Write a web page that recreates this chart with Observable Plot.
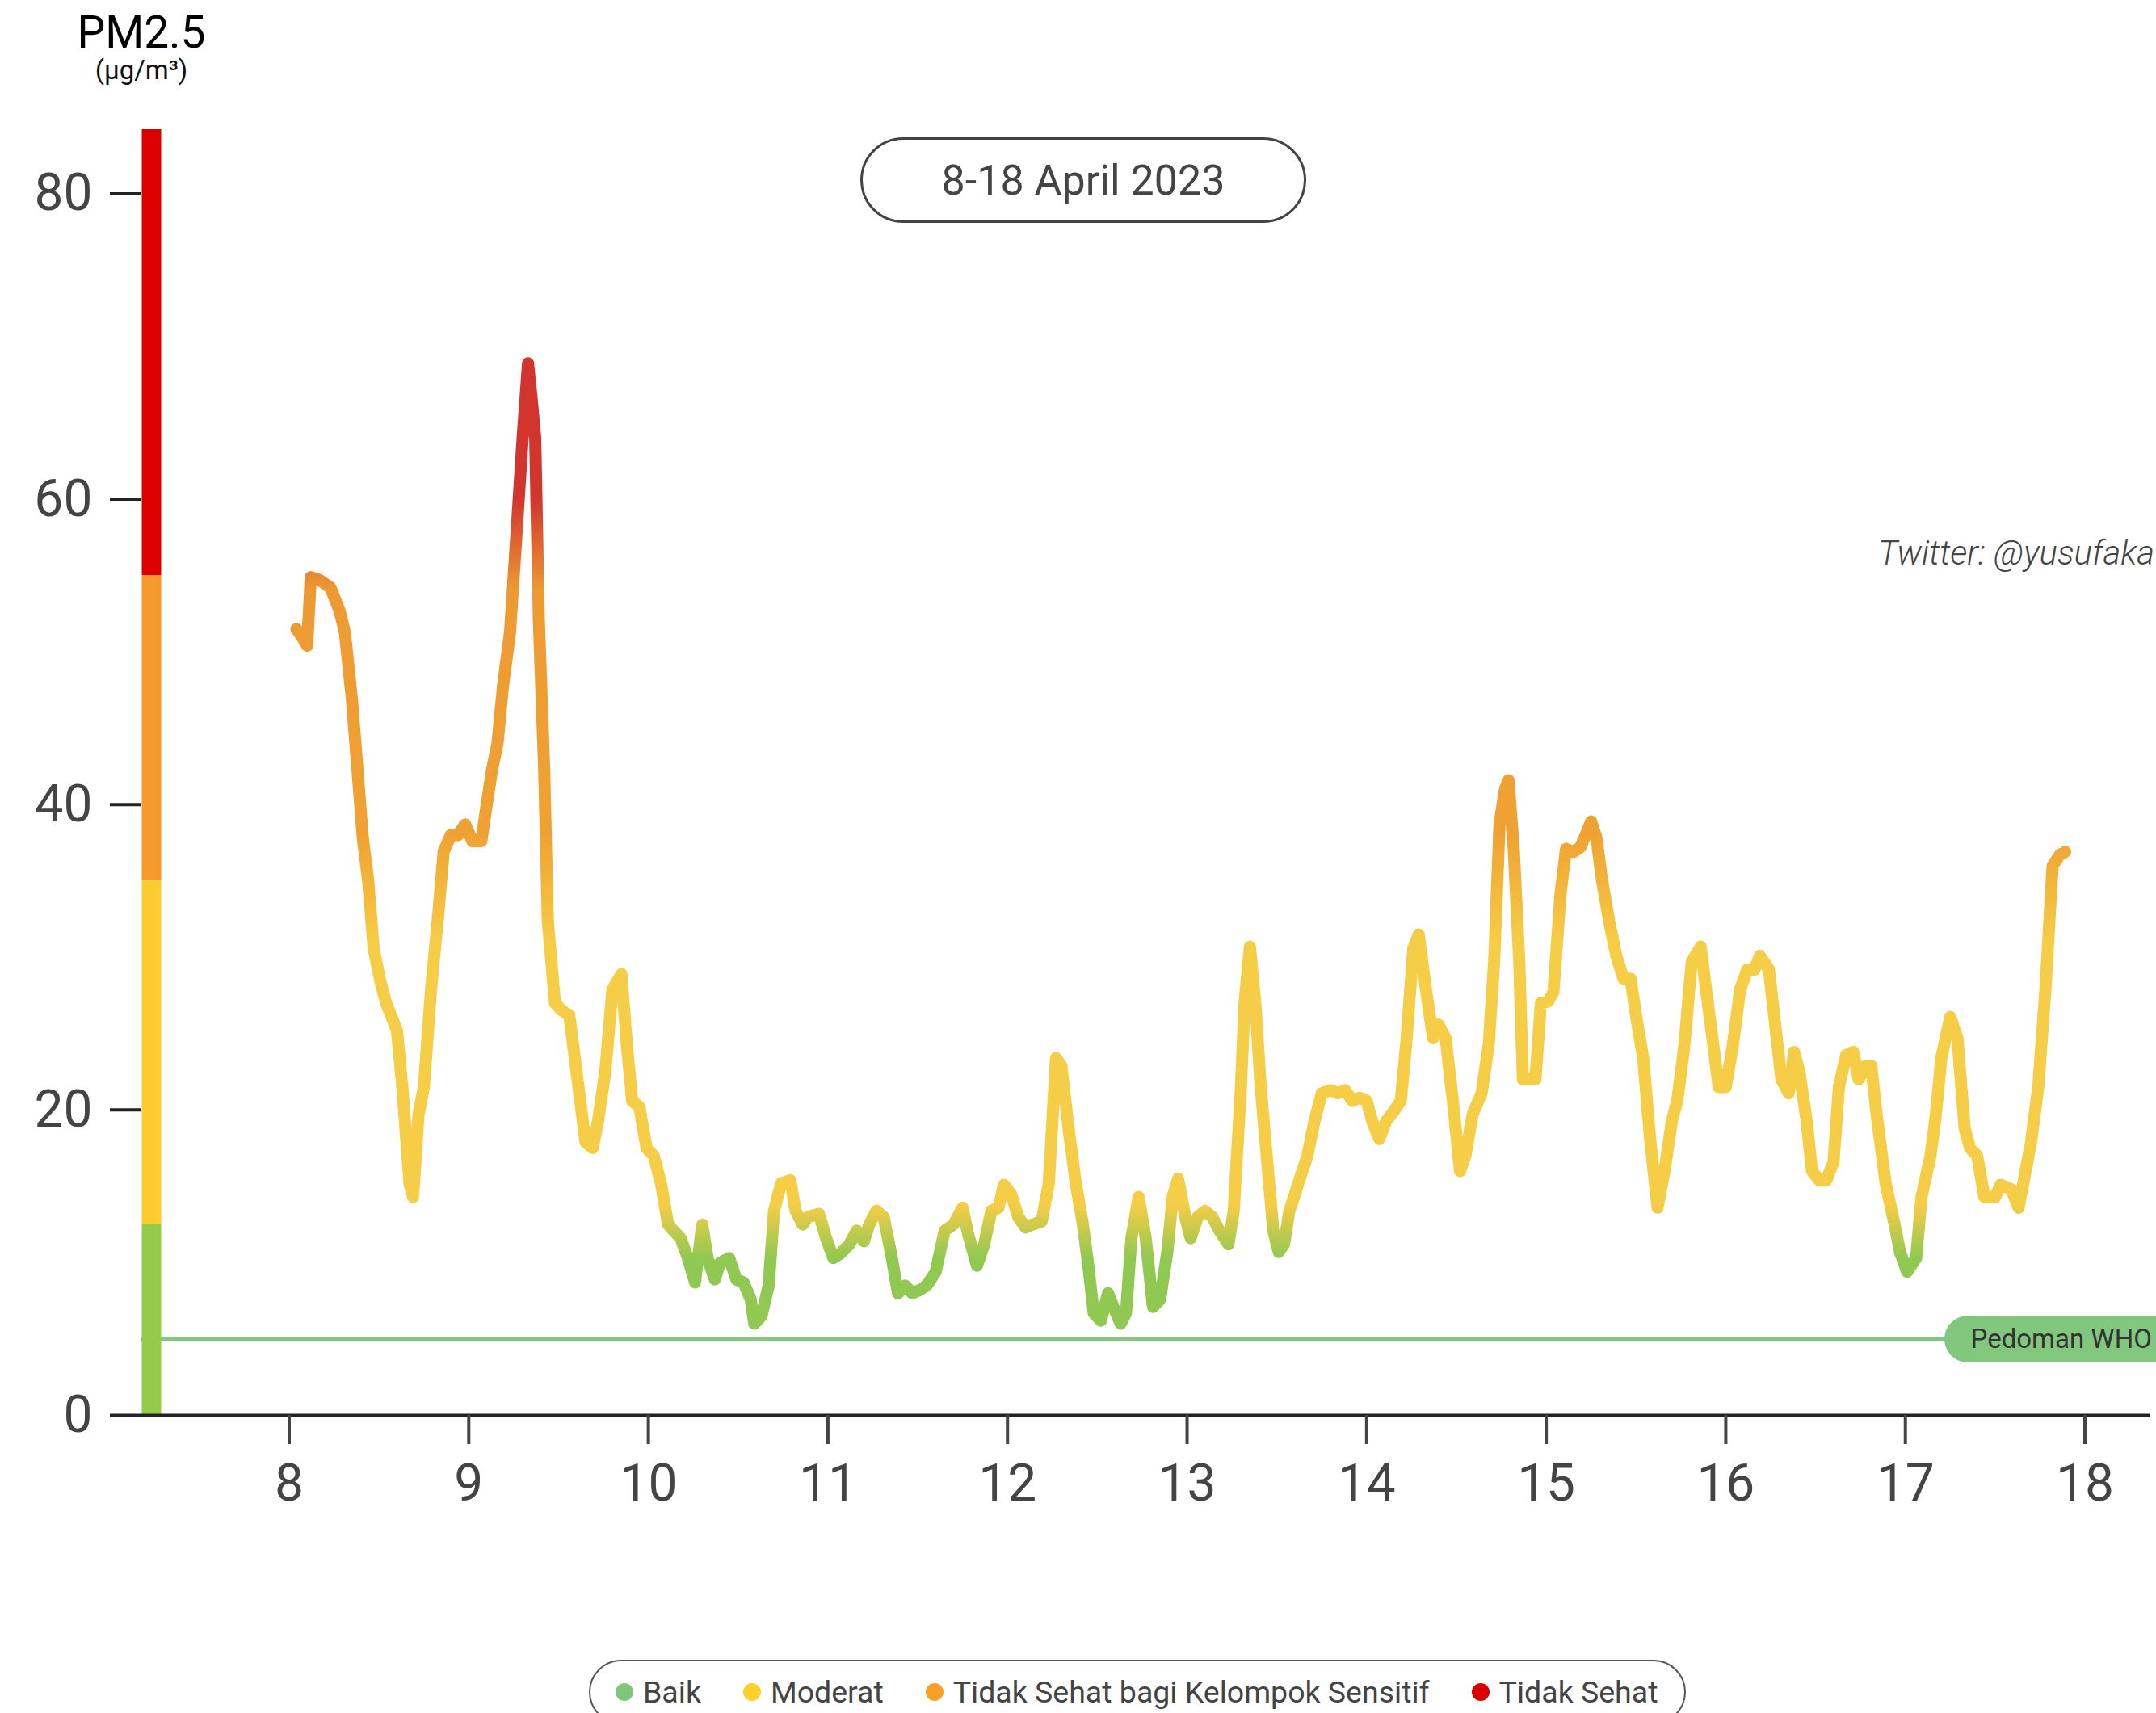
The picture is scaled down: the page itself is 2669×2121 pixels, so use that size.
<!DOCTYPE html>
<html>
<head>
<meta charset="utf-8">
<script src="https://cdn.jsdelivr.net/npm/d3@7"></script>
<script src="https://cdn.jsdelivr.net/npm/@observablehq/plot@0.6"></script>
<style>
  html, body { margin: 0; padding: 0; background: #fff; }
  #page { position: relative; width: 2669px; height: 2121px; overflow: hidden; font-family: Roboto, "Liberation Sans", sans-serif; }
  #chart { position: absolute; left: 0; top: 0; }
  .ov { position: absolute; white-space: nowrap; }
  #ytitle { left: 175px; top: 13px; transform: translateX(-50%); font-size: 55px; line-height: 1; color: #000; }
  #yunit { left: 175px; top: 70px; transform: translateX(-50%); font-size: 33px; line-height: 1; color: #111; }
  #datepill { left: 1065px; top: 170px; width: 552px; height: 106px; box-sizing: border-box; border: 3px solid #444; border-radius: 53px;
              display: flex; align-items: center; justify-content: center; font-size: 52px; color: #444; }
  #credit { left: 2325px; top: 684px; transform: translateY(-50%); font-size: 42px; font-style: italic; font-weight: 300; color: #444; }
  #legend { left: 729px; top: 2055px; width: 1358px; height: 80px; box-sizing: border-box; border: 2.5px solid #555; border-radius: 40px;
            display: flex; align-items: center; padding-left: 31px; gap: 52px; font-size: 37.5px; color: #444; }
  .item { display: flex; align-items: center; }
  .dot { width: 22px; height: 22px; border-radius: 50%; margin-right: 12px; }
</style>
</head>
<body>
<div id="page">
  <div id="chart"></div>
  <div class="ov" id="ytitle"></div>
  <div class="ov" id="yunit"></div>
  <div class="ov" id="datepill"></div>
  <div class="ov" id="credit"></div>
  <div class="ov" id="legend"></div>
</div>
<script>
// ---- data ----
const days = [8.04,8.07,8.10,8.12,8.17,8.23,8.28,8.31,8.35,8.38,
8.41,8.44,8.47,8.51,8.54,8.60,8.63,8.67,8.69,8.72,
8.75,8.79,8.83,8.86,8.90,8.94,8.98,9.02,9.07,9.10,
9.13,9.16,9.19,9.23,9.26,9.30,9.33,9.35,9.37,9.39,
9.42,9.44,9.48,9.52,9.56,9.60,9.65,9.69,9.72,9.76,
9.80,9.85,9.88,9.91,9.95,9.99,10.03,10.07,10.11,10.14,
10.18,10.22,10.26,10.30,10.33,10.37,10.40,10.45,10.49,10.53,
10.57,10.59,10.63,10.67,10.70,10.74,10.79,10.82,10.86,10.89,
10.95,10.99,11.03,11.07,11.12,11.16,11.20,11.23,11.27,11.31,
11.35,11.39,11.43,11.47,11.51,11.55,11.60,11.65,11.70,11.75,
11.78,11.83,11.87,11.91,11.95,11.98,12.02,12.06,12.10,12.14,
12.19,12.23,12.27,12.30,12.34,12.38,12.42,12.45,12.48,12.52,
12.56,12.59,12.63,12.66,12.69,12.73,12.77,12.81,12.85,12.89,
12.92,12.95,12.99,13.02,13.06,13.10,13.14,13.18,13.23,13.26,
13.30,13.32,13.35,13.38,13.41,13.45,13.48,13.51,13.54,13.57,
13.62,13.67,13.71,13.75,13.80,13.84,13.88,13.92,13.96,14.00,
14.03,14.07,14.11,14.15,14.19,14.22,14.26,14.29,14.33,14.37,
14.40,14.44,14.48,14.52,14.55,14.59,14.64,14.68,14.71,14.74,
14.77,14.79,14.82,14.85,14.87,14.91,14.94,14.97,15.01,15.04,
15.08,15.11,15.15,15.19,15.22,15.25,15.28,15.31,15.35,15.39,
15.43,15.47,15.50,15.54,15.58,15.62,15.66,15.70,15.73,15.77,
15.81,15.86,15.89,15.92,15.96,16.00,16.04,16.08,16.12,16.16,
16.19,16.24,16.27,16.31,16.35,16.38,16.41,16.45,16.48,16.52,
16.56,16.60,16.63,16.67,16.71,16.74,16.78,16.81,16.84,16.89,
16.94,16.97,17.01,17.06,17.09,17.14,17.17,17.20,17.25,17.29,
17.33,17.36,17.40,17.44,17.50,17.53,17.59,17.63,17.66,17.70,
17.74,17.78,17.82,17.86,17.89];

const pm25 = [51.5,51,50.4,54.9,54.7,54.2,52.7,51.3,46.8,42.3,
37.8,35,30.6,28.3,27,25.2,21.5,15.2,14.3,19.7,
21.5,27.9,32.8,36.9,38,38,38.7,37.6,37.6,40,
42.3,44,47.7,51.3,56.7,64,68.9,66.6,64,52.2,
42.3,32.4,27,26.5,26.2,22.5,17.9,17.5,19.3,22.5,
27.9,28.9,24.3,20.6,20.2,17.5,17,15.2,12.5,12.1,
11.6,10.3,8.7,12.5,10.3,8.9,10,10.3,8.9,8.7,
7.6,6,6.5,8.5,13.4,15.2,15.4,13.4,12.5,13,
13.2,11.6,10.3,10.6,11.2,12.1,11.4,12.5,13.4,13,
10.7,8,8.5,8,8.2,8.5,9.4,12.1,12.5,13.6,
11.9,9.8,11.2,13.4,13.6,15.1,14.5,13,12.3,12.5,
12.7,15.2,23.4,22.9,18.8,15.2,12.5,9.8,6.7,6.2,
8,7.1,6,6.7,11.6,14.3,11.6,7.1,7.6,10.7,
14.3,15.5,13,11.6,13,13.4,13,12.1,11.2,13.4,
21.5,27,30.7,27,21.5,16.1,12.1,10.7,11.2,13.4,
15.2,17,19.3,21.1,21.3,21.1,21.3,20.6,20.8,20.6,
19.3,18.1,19.3,19.9,20.6,24.3,30.6,31.5,27.9,24.7,
25.6,24.7,20.6,16,17,19.7,21.1,24.3,29.7,38.7,
41,41.6,36.9,29.7,22,22,22,27,27.1,27.7,
34.2,37.1,36.9,37.2,38,38.9,37.8,35.1,32.4,30.1,
28.6,28.6,26.2,23.4,17.9,13.6,16.1,19.3,20.6,24.3,
29.7,30.7,27.9,25.2,21.5,21.5,24.3,27.9,29.2,29.2,
30.1,29.2,26.1,22,21.1,23.8,22.5,19.3,16,15.4,
15.4,16.6,21.5,23.6,23.8,22,22.9,22.9,19.7,15.2,
12.5,10.7,9.4,10.3,14.3,17,19.7,23.4,26.1,24.7,
18.8,17.5,17,14.3,14.3,15.1,14.8,13.6,15.4,17.9,
21.5,27.9,36,36.7,36.9];

const xTicks = [8, 9, 10, 11, 12, 13, 14, 15, 16, 17, 18];
const yTicks = [0, 20, 40, 60, 80];

const categories = ["Baik", "Moderat", "Tidak Sehat bagi Kelompok Sensitif", "Tidak Sehat"];
const categoryLow = [0, 12.5, 35, 55];
const categoryHigh = [12.5, 35, 55, 84.2];

const whoGuideline = 5;
const whoText = "Pedoman WHO";
const yTitle = "PM2.5";
const yUnit = "(µg/m³)";
const periodText = "8-18 April 2023";
const creditText = "Twitter: @yusufaka";

// ---- styles / layout ----
const bandColors = ["#92cc4a", "#fccb2e", "#f7992b", "#dc0000"];
const legendColors = ["#7fc57d", "#fdd12a", "#f8a025", "#d90000"];
const lineStops = [[0, "#90c852"], [10.3, "#90c852"], [13.8, "#f6cd46"], [31, "#f6cd46"], [38, "#efa233"], [54, "#ee9a33"], [60, "#d2352e"], [84.2, "#d2352e"]];
const X0 = 7.179, X1 = 18.362, YMAX = 84.2;
const whoLabelX = 17.35;

const series = days.map((d, i) => ({day: d, pm: pm25[i]}));
const bands = categories.map((c, i) => ({name: c, lo: categoryLow[i], hi: categoryHigh[i], color: bandColors[i]}));

const plot = Plot.plot({
  width: 2669,
  height: 2121,
  marginTop: 160,
  marginBottom: 369,
  marginLeft: 175,
  marginRight: 8,
  x: {domain: [X0, X1], label: null},
  y: {domain: [0, YMAX], label: null},
  style: {fontFamily: "Roboto, 'Liberation Sans', sans-serif", background: "transparent"},
  marks: [
    Plot.ruleY([whoGuideline], {stroke: "#82c77e", strokeWidth: 4}),
    Plot.line(series, {x: "day", y: "pm", stroke: "url(#pmGradient)", strokeWidth: 15, strokeLinejoin: "round", strokeLinecap: "round"}),
    Plot.ruleX(bands, {x: X0, y1: "lo", y2: "hi", stroke: "color", strokeWidth: 24, dx: 12}),
    Plot.ruleY([0], {stroke: "#222", strokeWidth: 4}),
    Plot.axisY({ticks: yTicks, tickSize: 39, tickPadding: 22, fontSize: 64, stroke: "#222", strokeWidth: 4, fill: "#444", tickFormat: d => String(d), label: null}),
    Plot.axisX({ticks: xTicks, tickSize: 36, tickPadding: 24, fontSize: 64, stroke: "#444", strokeWidth: 4, fill: "#444", tickFormat: d => String(d), label: null}),
    Plot.ruleY([whoGuideline], {x1: whoLabelX, x2: X1 + 1, stroke: "#82c77e", strokeWidth: 58, strokeLinecap: "round"}),
    Plot.text([whoText], {x: whoLabelX, y: whoGuideline, text: d => d, textAnchor: "start", fontSize: 33, fill: "#333", dx: 3})
  ]
});

// vertical colour gradient for the line, positioned through the y scale
const ys = plot.scale("y");
const ns = "http://www.w3.org/2000/svg";
const defs = document.createElementNS(ns, "defs");
const grad = document.createElementNS(ns, "linearGradient");
grad.setAttribute("id", "pmGradient");
grad.setAttribute("gradientUnits", "userSpaceOnUse");
grad.setAttribute("x1", 0); grad.setAttribute("x2", 0);
const y0 = ys.apply(0), y1 = ys.apply(YMAX);
grad.setAttribute("y1", y0); grad.setAttribute("y2", y1);
for (const [v, c] of lineStops) {
  const s = document.createElementNS(ns, "stop");
  s.setAttribute("offset", (ys.apply(v) - y0) / (y1 - y0));
  s.setAttribute("stop-color", c);
  grad.appendChild(s);
}
defs.appendChild(grad);
plot.insertBefore(defs, plot.firstChild);
document.getElementById("chart").appendChild(plot);

// texts
document.getElementById("ytitle").textContent = yTitle;
document.getElementById("yunit").textContent = yUnit;
document.getElementById("datepill").textContent = periodText;
document.getElementById("credit").textContent = creditText;

const legend = document.getElementById("legend");
categories.forEach((c, i) => {
  const item = document.createElement("div");
  item.className = "item";
  const dot = document.createElement("span");
  dot.className = "dot";
  dot.style.background = legendColors[i];
  const label = document.createElement("span");
  label.textContent = c;
  item.appendChild(dot);
  item.appendChild(label);
  legend.appendChild(item);
});
</script>
</body>
</html>
